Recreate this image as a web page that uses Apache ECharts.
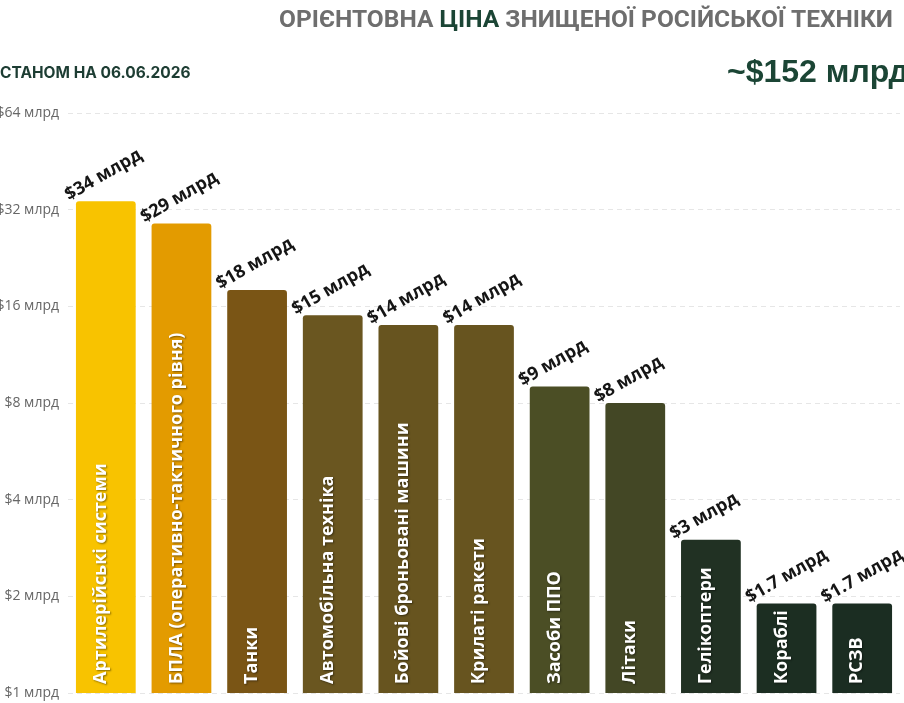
<!DOCTYPE html>
<html>
<head>
<meta charset="utf-8">
<script src="https://cdn.jsdelivr.net/npm/echarts@6/dist/echarts.min.js"></script>
<style>
html,body{margin:0;padding:0;background:#fff;}
#chart{width:904px;height:703px;}
</style>
</head>
<body>
<div id="chart"></div>
<script>
const categories = ["Артилерійські системи", "БПЛА (оперативно-тактичного рівня)", "Танки", "Автомобільна техніка", "Бойові броньовані машини", "Крилаті ракети", "Засоби ППО", "Літаки", "Гелікоптери", "Кораблі", "РСЗВ"];
const values = [34, 29, 18, 15, 14, 14, 9, 8, 3, 1.9, 1.9];
const valueLabels = ["$34 млрд", "$29 млрд", "$18 млрд", "$15 млрд", "$14 млрд", "$14 млрд", "$9 млрд", "$8 млрд", "$3 млрд", "$1.7 млрд", "$1.7 млрд"];
const barColors = ["#F8C300", "#E39B00", "#7A5515", "#6A5620", "#67541F", "#67541F", "#4B4E25", "#434725", "#213123", "#1C2E22", "#1B2D22"];
const yTicks = [1, 2, 4, 8, 16, 32, 64];

const chart = echarts.init(document.getElementById('chart'));
chart.setOption({
  animation: false,
  backgroundColor: '#ffffff',
  title: [
    {
      text: '{g|ОРІЄНТОВНА }{h|ЦІНА}{g| ЗНИЩЕНОЇ РОСІЙСЬКОЇ ТЕХНІКИ}',
      right: 11, top: 8, padding: 0,
      textStyle: {
        rich: {
          g: {fontFamily: 'Roboto', fontWeight: 'bold', fontSize: 24.5, color: '#6e6e6e'},
          h: {fontFamily: 'Roboto', fontWeight: 'bold', fontSize: 24.5, color: '#1b4535'}
        }
      }
    },
    {
      text: 'СТАНОМ НА 06.06.2026',
      left: 0, top: 65, padding: 0,
      textStyle: {fontFamily: 'Inter', fontWeight: 'bold', fontSize: 15.5, color: '#1d3d33'}
    },
    {
      text: '~$152 млрд',
      left: 727, top: 57, padding: 0,
      textStyle: {fontFamily: 'Liberation Sans', fontWeight: 'bold', fontSize: 32, color: '#1b4535'}
    }
  ],
  grid: {left: 68, right: 4, top: 113, bottom: 10, containLabel: false, outerBoundsMode: 'none'},
  xAxis: {
    type: 'category',
    data: categories,
    axisLine: {show: false},
    axisTick: {show: false},
    axisLabel: {show: false}
  },
  yAxis: {
    type: 'log',
    logBase: 2,
    min: yTicks[0],
    max: yTicks[yTicks.length - 1],
    interval: 1,
    axisLine: {show: false},
    axisTick: {show: false},
    axisLabel: {
      formatter: v => '$' + v + ' млрд',
      fontFamily: 'Open Sans', fontSize: 14, color: '#666', margin: 9
    },
    splitLine: {lineStyle: {type: [5, 4], color: '#e6e6e6', width: 1}}
  },
  series: [
    {
      type: 'bar',
      barCategoryGap: '21%',
      data: values.map((v, i) => ({value: v, itemStyle: {color: barColors[i]}})),
      itemStyle: {borderRadius: [3, 3, 0, 0]},
      label: {
        show: true,
        position: 'insideBottom',
        rotate: 90,
        align: 'left',
        verticalAlign: 'middle',
        distance: 9,
        offset: [0, -5],
        formatter: p => categories[p.dataIndex],
        fontFamily: 'Open Sans', fontWeight: 'bold', fontSize: 18, color: '#ffffff',
        textShadowColor: 'rgba(0,0,0,0.45)', textShadowBlur: 2, textShadowOffsetX: 1, textShadowOffsetY: 1
      },
      z: 2
    },
    {
      type: 'bar',
      barGap: '-100%',
      barCategoryGap: '21%',
      data: values,
      itemStyle: {color: 'rgba(0,0,0,0)'},
      silent: true,
      label: {
        show: true,
        position: [-5, 3],
        rotate: 30,
        align: 'left',
        verticalAlign: 'bottom',
        formatter: p => valueLabels[p.dataIndex],
        fontFamily: 'Open Sans', fontWeight: 'bold', fontSize: 18, color: '#151515'
      },
      z: 3
    }
  ]
});
</script>
</body>
</html>
